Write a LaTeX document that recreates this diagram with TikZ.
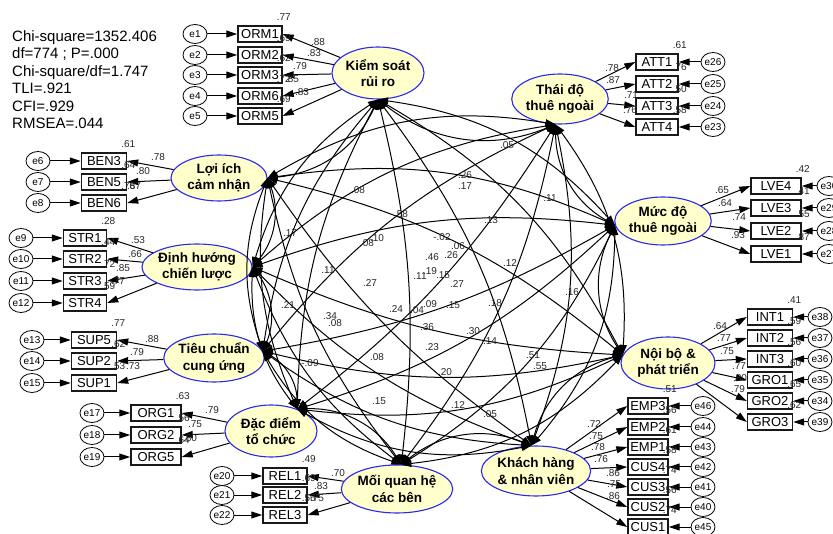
\documentclass[tikz,border=0pt]{standalone}
\usepackage{fontspec}
\setmainfont{Liberation Sans}
\usetikzlibrary{arrows.meta,shapes.geometric}
\definecolor{latfill}{RGB}{255,255,204}
\definecolor{latline}{RGB}{40,40,240}
\begin{document}
\begin{tikzpicture}[x=1pt,y=-1pt,
  latent/.style={ellipse, draw=latline, line width=1.1pt, fill=latfill, inner sep=0pt,
    align=center, font=\fontsize{13.5}{16.5}\selectfont\bfseries},
  obs/.style={rectangle, draw=black!90, line width=1.4pt, fill=white, minimum height=16pt,
    inner sep=0pt, font=\fontsize{13}{13}\selectfont},
  err/.style={ellipse, draw=black, line width=0.8pt, fill=white, minimum width=24pt,
    minimum height=19pt, inner sep=0pt, font=\fontsize{10}{10}\selectfont},
  num/.style={font=\fontsize{10}{10}\selectfont, inner sep=0pt, text=black!85},
  ld/.style={-{Triangle[length=11pt,width=7pt]}, line width=1pt},
  cov/.style={{Triangle[length=10pt,width=7pt]}-{Triangle[length=10pt,width=7pt]}, line width=1pt}
]
\useasboundingbox (0,0) rectangle (833,534);
\clip (0,0) rectangle (833,534);

% fit statistics
\node[anchor=north west, inner sep=0pt, align=left, font=\fontsize{15}{17.5}\selectfont] (fit) at (12,30)
  {Chi-square=1352.406\\df=774 ; P=.000\\Chi-square/df=1.747\\TLI=.921\\CFI=.929\\RMSEA=.044};

% latent factors
\node[latent, minimum width=92pt, minimum height=52pt] (KSR) at (378,73) {Kiểm soát\\rủi ro};
\node[latent, minimum width=94pt, minimum height=50pt] (TDT) at (560,99) {Thái độ\\thuê ngoài};
\node[latent, minimum width=94pt, minimum height=48pt] (MDT) at (663,221) {Mức độ\\thuê ngoài};
\node[latent, minimum width=94pt, minimum height=52pt] (NBP) at (668,363) {Nội bộ \&\\phát triển};
\node[latent, minimum width=94pt, minimum height=50pt] (KHN) at (536,471) {Khách hàng\\\& nhân viên};
\node[latent, minimum width=92pt, minimum height=48pt] (MQH) at (397,489) {Mối quan hệ\\các bên};
\node[latent, minimum width=92pt, minimum height=52pt] (DDT) at (271,431) {Đặc điểm\\tổ chức};
\node[latent, minimum width=92pt, minimum height=48pt] (TCC) at (214,358) {Tiêu chuẩn\\cung ứng};
\node[latent, minimum width=94pt, minimum height=46pt] (DHC) at (197,267) {Định hướng\\chiến lược};
\node[latent, minimum width=96pt, minimum height=46pt] (LIC) at (219,178) {Lợi ích\\cảm nhận};

% indicators on the left-hand side: error -> item <- factor
\foreach \nm/\yy/\er/\lo/\rs/\lx/\ly in {ORM1/34/e1/.88/.77/318/42, ORM2/55/e2/.83/.69/314/53,
    ORM3/75/e3/.79/.62/300/66, ORM6/96/e4/.85/.72/292/79, ORM5/116/e5/.83/.69/302/92} {
  \node[obs, minimum width=44pt] (\nm) at (260,\yy) {\nm};
  \node[err] (\er) at (195,\yy) {\er};
  \draw[ld] (\er) -- (\nm);
  \draw[ld] (KSR) -- (\nm.east);
  \node[num] at (\lx,\ly) {\lo};
  \path (\nm.north east) ++(1,-8) node[num] {\rs};
}
\foreach \nm/\yy/\er/\lo/\rs/\lx/\ly in {BEN3/161/e6/.78/.61/158/157, BEN5/182/e7/.80/.64/143/171,
    BEN6/203/e8/.87/.76/134/186} {
  \node[obs, minimum width=45pt] (\nm) at (104,\yy) {\nm};
  \node[err] (\er) at (38,\yy) {\er};
  \draw[ld] (\er) -- (\nm);
  \draw[ld] (LIC) -- (\nm.east);
  \node[num] at (\lx,\ly) {\lo};
  \path (\nm.north east) ++(1,-8) node[num] {\rs};
}
\foreach \nm/\yy/\er/\lo/\rs/\lx/\ly in {STR1/238/e9/.53/.28/138/240, STR2/259/e10/.66/.44/135/254,
    STR3/281/e11/.85/.72/123/268, STR4/303/e12/.77/.59/118/281} {
  \node[obs, minimum width=43pt] (\nm) at (85,\yy) {\nm};
  \node[err] (\er) at (21,\yy) {\er};
  \draw[ld] (\er) -- (\nm);
  \draw[ld] (DHC) -- (\nm.east);
  \node[num] at (\lx,\ly) {\lo};
  \path (\nm.north east) ++(1,-8) node[num] {\rs};
}
\foreach \nm/\yy/\er/\lo/\rs/\lx/\ly in {SUP5/340/e13/.88/.77/152/339, SUP2/361/e14/.79/.62/137/352,
    SUP1/383/e15/.73/.53/133/366} {
  \node[obs, minimum width=45pt] (\nm) at (94,\yy) {\nm};
  \node[err] (\er) at (32,\yy) {\er};
  \draw[ld] (\er) -- (\nm);
  \draw[ld] (TCC) -- (\nm.east);
  \node[num] at (\lx,\ly) {\lo};
  \path (\nm.north east) ++(1,-8) node[num] {\rs};
}
\foreach \nm/\yy/\er/\lo/\rs/\lx/\ly in {ORG1/413/e17/.79/.63/212/410, ORG2/435/e18/.75/.56/195/424,
    ORG5/457/e19/.80/.64/190/438} {
  \node[obs, minimum width=50pt] (\nm) at (156,\yy) {\nm};
  \node[err] (\er) at (92,\yy) {\er};
  \draw[ld] (\er) -- (\nm);
  \draw[ld] (DDT) -- (\nm.east);
  \node[num] at (\lx,\ly) {\lo};
  \path (\nm.north east) ++(1,-8) node[num] {\rs};
}
\foreach \nm/\yy/\er/\lo/\rs/\lx/\ly in {REL1/476/e20/.70/.49/338/473, REL2/495/e21/.83/.69/321/486,
    REL3/515/e22/.75/.56/317/498} {
  \node[obs, minimum width=44pt] (\nm) at (285,\yy) {\nm};
  \node[err] (\er) at (222,\yy) {\er};
  \draw[ld] (\er) -- (\nm);
  \draw[ld] (MQH) -- (\nm.east);
  \node[num] at (\lx,\ly) {\lo};
  \path (\nm.north east) ++(1,-8) node[num] {\rs};
}

% indicators on the right-hand side: factor -> item <- error
\foreach \nm/\yy/\er/\lo/\rs/\lx/\ly in {ATT1/62/e26/.78/.61/612/68, ATT2/84/e25/.87/.76/613/80,
    ATT3/106/e24/.71/.50/631/95, ATT4/127/e23/.76/.58/630/110} {
  \node[obs, minimum width=42pt] (\nm) at (657,\yy) {\nm};
  \node[err] (\er) at (713,\yy) {\er};
  \draw[ld] (\er) -- (\nm);
  \draw[ld] (TDT) -- (\nm.west);
  \node[num] at (\lx,\ly) {\lo};
  \path (\nm.north east) ++(1,-8) node[num] {\rs};
}
\foreach \nm/\yy/\er/\lo/\rs/\lx/\ly in {LVE4/186/e30/.65/.42/722/190, LVE3/208/e29/.64/.41/725/203,
    LVE2/231/e28/.74/.55/739/217, LVE1/254/e27/.93/.87/738/235} {
  \node[obs, minimum width=50pt] (\nm) at (776,\yy) {\nm};
  \node[err] (\er) at (829,\yy) {\er};
  \draw[ld] (\er) -- (\nm);
  \draw[ld] (MDT) -- (\nm.west);
  \node[num] at (\lx,\ly) {\lo};
  \path (\nm.north east) ++(1,-8) node[num] {\rs};
}
\foreach \nm/\yy/\er/\lo/\rs/\lx/\ly in {INT1/317/e38/.64/.41/720/326, INT2/338/e37/.77/.59/724/338,
    INT3/359/e36/.75/.56/727/351, GRO1/380/e35/.77/.60/739/366, GRO2/401/e34/.80/.65/740/378,
    GRO3/422/e39/.79/.62/738/389} {
  \node[obs, minimum width=45pt] (\nm) at (770,\yy) {\nm};
  \node[err] (\er) at (820,\yy) {\er};
  \draw[ld] (\er) -- (\nm);
  \draw[ld] (NBP) -- (\nm.west);
  \node[num] at (\lx,\ly) {\lo};
  \path (\nm.north east) ++(1,-8) node[num] {\rs};
}
\foreach \nm/\yy/\er/\lo/\rs/\lx/\ly in {EMP3/406/e46/.72/.51/594/424, EMP2/427/e44/.75/.56/596/436,
    EMP1/447/e43/.78/.61/598/447, CUS4/467/e42/.76/.58/601/459, CUS3/487/e41/.86/.74/613/473,
    CUS2/507/e40/.75/.56/614/484, CUS1/527/e45/.86/.74/613/496} {
  \node[obs, minimum width=40pt] (\nm) at (648,\yy) {\nm};
  \node[err] (\er) at (703,\yy) {\er};
  \draw[ld] (\er) -- (\nm);
  \draw[ld] (KHN) -- (\nm.west);
  \node[num] at (\lx,\ly) {\lo};
  \path (\nm.north east) ++(1,-8) node[num] {\rs};
}

% attachment points of the covariance arcs
\coordinate (cKSR) at (KSR.-90);
\coordinate (cTDT) at (TDT.-100);
\coordinate (cMDT) at (MDT.185);
\coordinate (cNBP) at (NBP.170);
\coordinate (cKHN) at (KHN.100);
\coordinate (cMQH) at (MQH.80);
\coordinate (cDDT) at (DDT.40);
\coordinate (cTCC) at (TCC.8);
\coordinate (cDHC) at (DHC.0);
\coordinate (cLIC) at (LIC.0);

% covariances between all pairs of factors
\foreach \fa/\fb/\bb in {
  KSR/TDT/-30, TDT/MDT/-30, MDT/NBP/-30, NBP/KHN/-30, KHN/MQH/-30,
  MQH/DDT/-30, DDT/TCC/-30, TCC/DHC/-30, DHC/LIC/-30, LIC/KSR/-30,
  KSR/MDT/20, TDT/NBP/20, MDT/KHN/20, NBP/MQH/20, KHN/DDT/20,
  MQH/TCC/20, DDT/DHC/20, TCC/LIC/20, DHC/KSR/20, LIC/TDT/20,
  KSR/NBP/16, TDT/KHN/16, MDT/MQH/16, NBP/DDT/16, KHN/TCC/16,
  MQH/DHC/16, DDT/LIC/16, TCC/KSR/16, DHC/TDT/16, LIC/MDT/16,
  KSR/KHN/13, TDT/MQH/13, MDT/DDT/13, NBP/TCC/13, KHN/DHC/13,
  MQH/LIC/13, DDT/KSR/13, TCC/TDT/13, DHC/MDT/13, LIC/NBP/13,
  KSR/MQH/10, TDT/DDT/10, MDT/TCC/10, NBP/DHC/10, KHN/LIC/10} {
  \draw[cov] (c\fa) to[bend left=\bb] (c\fb);
}

% correlation estimates
\foreach \px/\py/\tx in {507/145/.05, 465/175/.26, 465/186/.17, 358/190/.08, 550/198/.11,
    401/214/.58, 491/220/.13, 290/233/.17, 377/238/.10, 367/243/.08, 442/237/-.02,
    458/246/.06, 432/257/.46, 451/255/.26, 510/263/.12, 328/270/.11, 430/271/.19,
    420/276/.11, 443/275/.15, 370/283/.27, 457/284/.27, 572/292/.16, 288/305/.21,
    396/309/.24, 417/310/.04, 430/304/.09, 453/305/.15, 495/303/.18, 330/316/.34,
    335/323/.08, 427/327/.36, 473/331/.30, 490/341/.14, 432/347/.23, 533/355/.51,
    540/366/.55, 310/363/-.09, 377/357/.08, 445/372/.20, 379/401/.15, 458/405/.12,
    490/414/.05} {
  \node[num] at (\px,\py) {\tx};
}
\end{tikzpicture}
\end{document}
